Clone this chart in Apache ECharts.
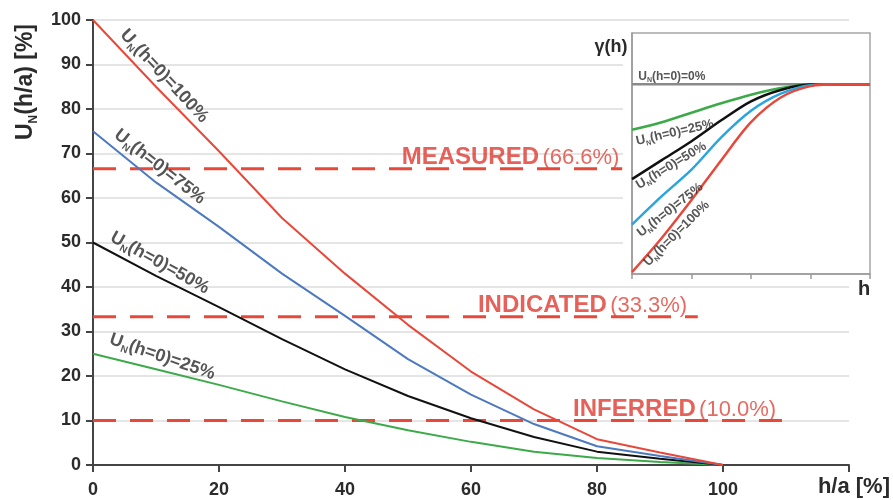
<!DOCTYPE html>
<html>
<head>
<meta charset="utf-8">
<script src="https://cdn.jsdelivr.net/npm/echarts@6/dist/echarts.min.js"></script>
<style>html,body{margin:0;padding:0;background:#fff}#c{width:893px;height:500px}</style>
</head>
<body>
<div id="c"></div>
<script>
// ---- main chart data ----
const hA = [0, 10, 20, 30, 40, 50, 60, 70, 80, 90, 100];
const u100 = [100, 85, 70.5, 55.5, 43, 31.5, 21, 12.5, 5.8, 2.8, 0];
const u75 = [75, 63.5, 53.5, 43, 33.5, 23.8, 15.8, 9.2, 4.2, 2.0, 0];
const u50 = [50, 42.5, 35.5, 28.3, 21.5, 15.5, 10.5, 6.3, 3.0, 1.4, 0];
const u25 = [25, 21.5, 18, 14.3, 10.8, 7.8, 5.2, 3.0, 1.6, 0.7, 0];
const xTicks = [0, 20, 40, 60, 80, 100];
const yTicks = [0, 10, 20, 30, 40, 50, 60, 70, 80, 90, 100];
// classification thresholds
const thrNames = ['MEASURED', 'INDICATED', 'INFERRED'];
const thrValues = [66.6, 33.3, 10.0];
const thrEnds = [84, 96, 110];
const thrLabelX = [49, 61.1, 76.2];
// ---- inset (variogram) data ----
const hIn = [0, 0.5, 1, 1.5, 2, 2.5, 3, 3.5, 4];
const g100 = [0.01, 0.19, 0.39, 0.60, 0.80, 0.93, 0.99, 1.0, 1.0];
const g75 = [0.26, 0.41, 0.55, 0.72, 0.86, 0.95, 0.995, 1.0, 1.0];
const g50 = [0.50, 0.60, 0.70, 0.81, 0.91, 0.97, 0.998, 1.0, 1.0];
const g25 = [0.76, 0.80, 0.85, 0.90, 0.945, 0.98, 1.0, 1.0, 1.0];
const g0 = [1, 1, 1, 1, 1, 1, 1, 1, 1];

const RED = '#e8483a', BLUE = '#4d79c0', BLACK = '#111111', GREEN = '#3daa4a', CYAN = '#2aa5dd', GRAY = '#8a8a8a';
const TXT = '#2b2b2b';
const FF = '"Liberation Sans", Arial, sans-serif';

const pairs = (xs, ys) => xs.map((x, i) => [x, ys[i]]);

function subRich(size) {
  return {
    u: { fontSize: size, fontWeight: 'bold', color: TXT, fontFamily: FF, lineHeight: size * 1.2, verticalAlign: 'middle' },
    n: { fontSize: Math.round(size * 0.55), fontWeight: 'bold', color: TXT, fontFamily: FF, lineHeight: size * 1.2, verticalAlign: 'bottom' }
  };
}
function curveLabel(gridIdx, x, y, pct, rot, size) {
  return {
    type: 'scatter', xAxisIndex: gridIdx, yAxisIndex: gridIdx, silent: true, z: 12,
    symbolSize: 1, itemStyle: { color: 'rgba(0,0,0,0)' },
    data: [[x, y]],
    label: {
      show: true, position: 'inside', rotate: rot,
      formatter: '{u|U}{n|N}{u|(h=0)=' + pct + '%}',
      rich: subRich(size)
    }
  };
}
function lineSeries(gridIdx, xs, ys, color, width, smooth) {
  return {
    type: 'line', xAxisIndex: gridIdx, yAxisIndex: gridIdx, data: pairs(xs, ys),
    symbol: 'none', smooth: smooth, z: gridIdx ? 10 : 3, silent: true,
    lineStyle: { color: color, width: width }
  };
}

const series = [];
// dashed threshold lines + labels
thrValues.forEach((v, i) => {
  series.push({
    type: 'line', data: [[0, v], [thrEnds[i], v]], symbol: 'none', silent: true, z: 2,
    lineStyle: { color: RED, width: 3, type: [23, 14] }
  });
  series.push({
    type: 'scatter', silent: true, z: 4, symbolSize: 1, itemStyle: { color: 'rgba(0,0,0,0)' },
    data: [[thrLabelX[i], v]],
    label: {
      show: true, position: 'inside', align: 'left', verticalAlign: 'bottom', offset: [0, 1],
      formatter: '{b|' + thrNames[i] + '} {r|(' + v.toFixed(1) + '%)}',
      rich: {
        b: { fontSize: 24, fontWeight: 'bold', color: '#e03a30', fontFamily: FF },
        r: { fontSize: 22, color: '#e0453a', fontFamily: FF }
      }
    }
  });
});
series.push(lineSeries(0, hA, u25, GREEN, 2, false));
series.push(lineSeries(0, hA, u50, BLACK, 2, false));
series.push(lineSeries(0, hA, u75, BLUE, 2, false));
series.push(lineSeries(0, hA, u100, RED, 2, false));
series.push(curveLabel(0, 11.3, 87.4, 100, -47, 18));
series.push(curveLabel(0, 10.6, 67.0, 75, -38, 18));
series.push(curveLabel(0, 10.6, 45.4, 50, -29, 18));
series.push(curveLabel(0, 11.0, 24.3, 25, -19, 18));
// inset
series.push(lineSeries(1, hIn, g0, GRAY, 2.5, false));
series.push(lineSeries(1, hIn, g25, GREEN, 2.5, 0.3));
series.push(lineSeries(1, hIn, g50, BLACK, 2.5, 0.3));
series.push(lineSeries(1, hIn, g75, CYAN, 2.5, 0.3));
series.push(lineSeries(1, hIn, g100, RED, 2.5, 0.3));
series.push({
  type: 'scatter', xAxisIndex: 1, yAxisIndex: 1, silent: true, z: 12,
  symbolSize: 1, itemStyle: { color: 'rgba(0,0,0,0)' }, data: [[0.67, 1.04]],
  label: { show: true, position: 'inside', formatter: '{u|U}{n|N}{u|(h=0)=0%}', rich: subRich(12) }
});
series.push(curveLabel(1, 0.72, 0.745, 25, 13, 13));
series.push(curveLabel(1, 0.66, 0.571, 50, 31, 13));
series.push(curveLabel(1, 0.64, 0.337, 75, 38, 13));
series.push(curveLabel(1, 0.75, 0.213, 100, 45, 13));

const option = {
  animation: false,
  backgroundColor: '#ffffff',
  grid: [
    { left: 93, top: 20, right: 44, bottom: 35 },
    { left: 632, top: 33, width: 238, height: 241 }
  ],
  xAxis: [
    {
      type: 'value', gridIndex: 0, min: 0, max: 120, interval: 20,
      axisLine: { show: true, lineStyle: { color: '#444', width: 2 } },
      axisTick: { show: true, length: 7, lineStyle: { color: '#444', width: 2 } },
      axisLabel: {
        margin: 16, fontSize: 18, fontWeight: 'bold', color: TXT, fontFamily: FF,
        formatter: v => (xTicks.indexOf(v) >= 0 ? String(v) : '')
      },
      splitLine: { show: false }
    },
    {
      type: 'value', gridIndex: 1, min: 0, max: 4, interval: 1, z: 10,
      axisLine: { show: true, lineStyle: { color: '#9a9a9a', width: 1.5 } },
      axisTick: { show: true, length: 5, lineStyle: { color: '#9a9a9a', width: 1.5 } },
      axisLabel: { show: false }, splitLine: { show: false }
    }
  ],
  yAxis: [
    {
      type: 'value', gridIndex: 0, min: 0, max: 100, interval: 10,
      axisLine: { show: true, lineStyle: { color: '#444', width: 2 } },
      axisTick: { show: true, length: 7, lineStyle: { color: '#444', width: 2 } },
      axisLabel: {
        margin: 12, fontSize: 18, fontWeight: 'bold', color: TXT, fontFamily: FF,
        formatter: v => (yTicks.indexOf(v) >= 0 ? String(v) : '')
      },
      splitLine: { show: true, lineStyle: { color: '#dcdcdc', width: 1.5 } }
    },
    {
      type: 'value', gridIndex: 1, min: 0, max: 1.27, z: 10,
      axisLine: { show: true, lineStyle: { color: '#9a9a9a', width: 1.5 } },
      axisTick: { show: false }, axisLabel: { show: false }, splitLine: { show: false }
    }
  ],
  graphic: [
    { type: 'rect', z: 1, silent: true, shape: { x: 623, y: 25, width: 257, height: 258 }, style: { fill: '#ffffff' } },
    { type: 'rect', z: 9, silent: true, shape: { x: 632, y: 33, width: 238, height: 241 }, style: { fill: 'none', stroke: '#a6a6a6', lineWidth: 1.5 } },
    {
      type: 'text', z: 20, x: 26, y: 82, rotation: Math.PI / 2,
      style: {
        text: '{u|U}{n|N}{u|(h/a) [%]}', align: 'center', verticalAlign: 'middle',
        rich: {
          u: { fontSize: 23, fontWeight: 'bold', fill: TXT, fontFamily: FF, lineHeight: 28, verticalAlign: 'middle' },
          n: { fontSize: 12, fontWeight: 'bold', fill: TXT, fontFamily: FF, lineHeight: 28, verticalAlign: 'bottom' }
        }
      }
    },
    {
      type: 'text', z: 20, x: 890, y: 487,
      style: { text: 'h/a [%]', align: 'right', verticalAlign: 'middle', font: 'bold 22px ' + FF, fill: TXT }
    },
    {
      type: 'text', z: 20, x: 611, y: 47,
      style: { text: 'γ(h)', align: 'center', verticalAlign: 'middle', font: 'bold 18px ' + FF, fill: TXT }
    },
    {
      type: 'text', z: 20, x: 864, y: 289,
      style: { text: 'h', align: 'center', verticalAlign: 'middle', font: 'bold 20px ' + FF, fill: TXT }
    }
  ],
  series: series
};
const chart = echarts.init(document.getElementById('c'), null, { renderer: 'canvas' });
chart.setOption(option);
</script>
</body>
</html>
